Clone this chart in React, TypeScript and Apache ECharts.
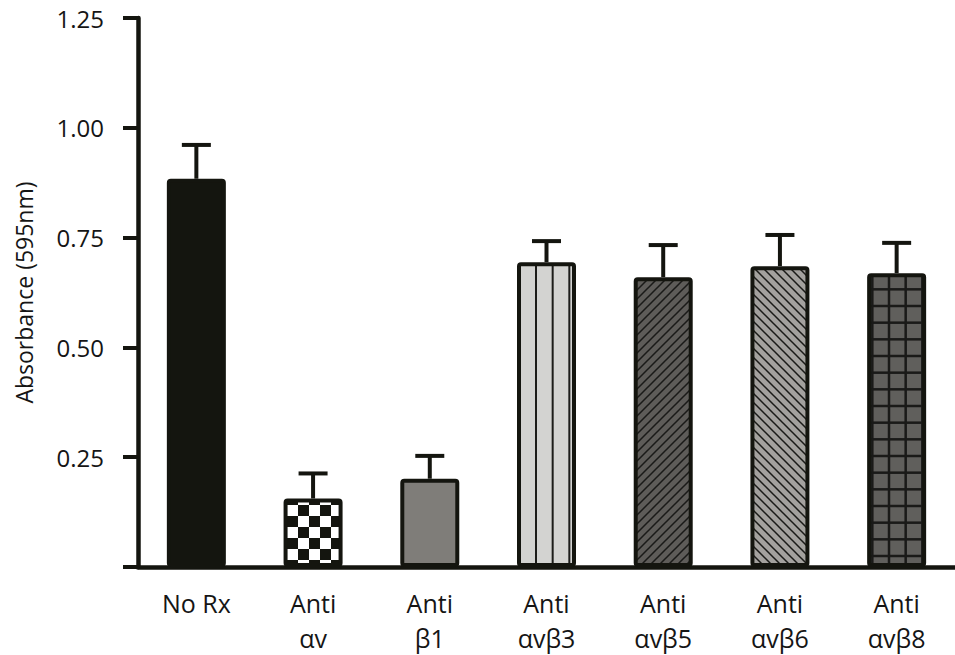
import React, { useEffect, useRef } from "react";
import * as echarts from "echarts";

const categories = ["No Rx", "Anti\nαv", "Anti\nβ1", "Anti\nαvβ3", "Anti\nαvβ5", "Anti\nαvβ6", "Anti\nαvβ8"];
const means = [0.884, 0.156, 0.201, 0.694, 0.66, 0.685, 0.669];
const errors = [0.077, 0.057, 0.052, 0.048, 0.073, 0.071, 0.069];
const yTicks = [0, 0.25, 0.5, 0.75, 1.0, 1.25];

const INK = "#14150f";

function tile(w: number, h: number, bg: string, draw: (ctx: CanvasRenderingContext2D) => void) {
  const c = document.createElement("canvas");
  c.width = w;
  c.height = h;
  const ctx = c.getContext("2d")!;
  ctx.fillStyle = bg;
  ctx.fillRect(0, 0, w, h);
  draw(ctx);
  return { image: c, repeat: "repeat", imageWidth: w, imageHeight: h } as any;
}

function makeFills() {
  const solid = INK;
  const checker = tile(22, 22, "#ffffff", (ctx) => {
    ctx.fillStyle = INK;
    const ox = 287;
    const oy = 505;
    for (let x = 0; x < 22; x++) {
      for (let y = 0; y < 22; y++) {
        const cx = Math.floor((x + 22 * 20 - ox) / 11);
        const cy = Math.floor((y + 22 * 30 - oy) / 11);
        if ((cx + cy) % 2 === 1) ctx.fillRect(x, y, 1, 1);
      }
    }
  });
  const gray = "#7f7d79";
  const vlines = tile(50, 4, "#d3d3d1", (ctx) => {
    ctx.fillStyle = "#1c1c1a";
    for (let k = 0; k < 3; k++) {
      const x = (536 + (k * 50) / 3) % 50;
      ctx.fillRect(x - 1, 0, 2, 4);
    }
  });
  const hatch = (bg: string, dir: number) =>
    tile(9, 9, bg, (ctx) => {
      ctx.strokeStyle = "#1a1a18";
      ctx.lineWidth = 1.5;
      ctx.beginPath();
      for (let o = -9; o <= 9; o += 9) {
        if (dir > 0) {
          ctx.moveTo(o - 1, 10);
          ctx.lineTo(o + 10, -1);
        } else {
          ctx.moveTo(o - 1, -1);
          ctx.lineTo(o + 10, 10);
        }
      }
      ctx.stroke();
    });
  const grid = tile(50, 50, "#605f5c", (ctx) => {
    ctx.fillStyle = "#1a1a18";
    for (let k = 0; k < 3; k++) {
      const x = (889 + (k * 50) / 3) % 50;
      const y = (456 + (k * 50) / 3) % 50;
      ctx.fillRect(x - 1.25, 0, 2.5, 50);
      ctx.fillRect(0, y - 1.25, 50, 2.5);
    }
  });
  return [solid, checker, gray, vlines, hatch("#5e5c59", 1), hatch("#a3a19e", -1), grid];
}

export default function App() {
  const ref = useRef<HTMLDivElement>(null);
  useEffect(() => {
    const chart = echarts.init(ref.current!, null, { renderer: "svg" });
    const fills = makeFills();
    const font = "'Open Sans', 'Noto Sans', sans-serif";
    chart.setOption({
      animation: false,
      backgroundColor: "#ffffff",
      grid: { left: 138, top: 18, width: 823.7, bottom: 84, containLabel: false },
      xAxis: {
        type: "category",
        data: categories,
        axisLine: { lineStyle: { color: INK, width: 4.5 } },
        axisTick: { alignWithLabel: true, length: 15, lineStyle: { color: INK, width: 4 } },
        axisLabel: { color: "#151515", fontSize: 25, lineHeight: 35, margin: 18, fontFamily: font, interval: 0 },
      },
      yAxis: {
        type: "value",
        min: 0,
        max: 1.25,
        interval: 0.25,
        name: "Absorbance (595nm)",
        nameLocation: "middle",
        nameGap: 103,
        nameTextStyle: { color: "#151515", fontSize: 23, fontFamily: font },
        splitLine: { show: false },
        axisLine: { show: true, lineStyle: { color: INK, width: 4.5 } },
        axisTick: { show: true, length: 15, lineStyle: { color: INK, width: 4 } },
        axisLabel: {
          color: "#151515",
          fontSize: 24,
          margin: 34,
          fontFamily: font,
          formatter: (v: number) => (v === 0 ? "" : v.toFixed(2)),
        },
      },
      series: [
        {
          type: "custom",
          z: 1,
          data: categories.map((c, i) => [i, means[i], means[i] + errors[i]]),
          renderItem: (params: any, api: any) => {
            const base = api.coord([api.value(0), api.value(1)]);
            const top = api.coord([api.value(0), api.value(2)]);
            return {
              type: "group",
              children: [
                { type: "line", shape: { x1: base[0], y1: base[1], x2: base[0], y2: top[1] }, style: { stroke: INK, lineWidth: 4 } },
                { type: "line", shape: { x1: base[0] - 14.5, y1: top[1], x2: base[0] + 14.5, y2: top[1] }, style: { stroke: INK, lineWidth: 4 } },
              ],
            };
          },
        },
        {
          type: "bar",
          z: 2,
          barWidth: 59,
          data: means.map((v, i) => ({
            value: v,
            itemStyle: { color: fills[i], borderColor: INK, borderWidth: 4, borderRadius: 2 },
          })),
        },
      ],
    });
    return () => chart.dispose();
  }, []);
  return <div ref={ref} style={{ position: "fixed", left: 0, top: 0, width: 955, height: 655 }} />;
}
